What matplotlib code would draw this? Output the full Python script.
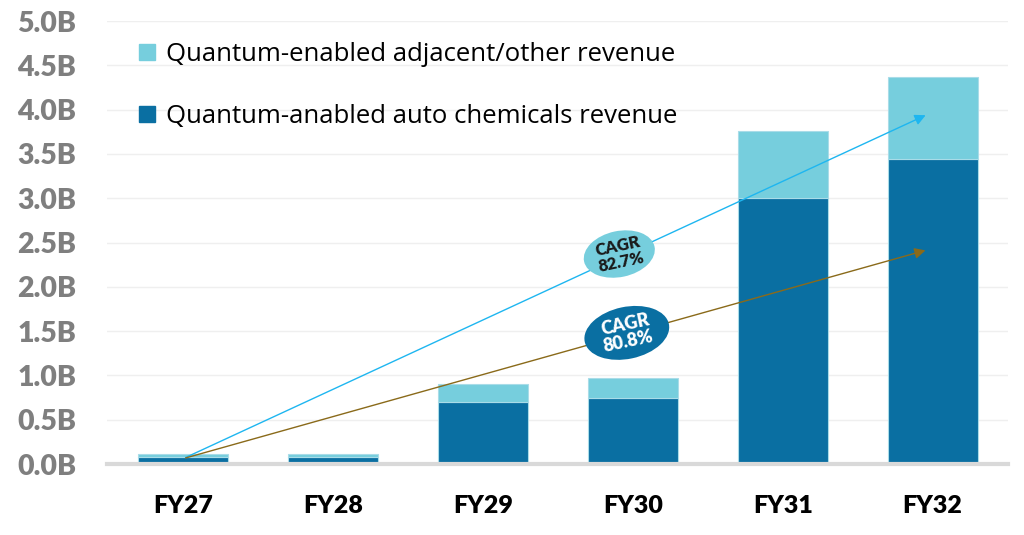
import matplotlib.pyplot as plt
from matplotlib.patches import Patch, Ellipse
from matplotlib.transforms import ScaledTranslation

# données (en milliards)
annees = ["FY27", "FY28", "FY29", "FY30", "FY31", "FY32"]
auto_chem = [0.08, 0.08, 0.70, 0.75, 3.00, 3.44]
adjacent = [0.03, 0.03, 0.20, 0.22, 0.76, 0.93]
y_ticks = [0.0, 0.5, 1.0, 1.5, 2.0, 2.5, 3.0, 3.5, 4.0, 4.5, 5.0]

c_dark = "#0a6fa2"
c_light = "#76cedd"

plt.rcParams["font.family"] = ["Lato", "DejaVu Sans"]

fig = plt.figure(figsize=(10.24, 5.35), dpi=100)
ax = fig.add_axes([0.1045, 0.1327, 0.8795, 0.828])

x = range(len(annees))
ax.bar(x, auto_chem, width=0.6, color=c_dark, edgecolor="#a9dce8", linewidth=0.8, zorder=2)
ax.bar(x, adjacent, width=0.6, bottom=auto_chem, color=c_light, edgecolor="#a9dce8",
       linewidth=0.8, zorder=2)

# flèches CAGR
ax.annotate("", xy=(4.97, 3.95), xytext=(0, 0.06),
            arrowprops=dict(arrowstyle="-|>", color="#1eb6f0", lw=1.0, mutation_scale=16), zorder=3)
ax.annotate("", xy=(4.97, 2.42), xytext=(0, 0.06),
            arrowprops=dict(arrowstyle="-|>", color="#8a6a1a", lw=1.0, mutation_scale=16), zorder=3)

# ellipses (taille en pouces, centre en coordonnées des données)
def bulle(cx, cy, w, h, couleur, texte, couleur_txt, taille):
    tr = fig.dpi_scale_trans + ScaledTranslation(cx, cy, ax.transData)
    ax.add_patch(Ellipse((0, 0), w, h, angle=12, transform=tr, fc=couleur, ec="none", zorder=4))
    ax.text(cx, cy, texte, rotation=12, ha="center", va="center", fontsize=taille,
            fontweight="heavy", color=couleur_txt, linespacing=1.0, zorder=5)

bulle(2.91, 2.37, 0.72, 0.46, c_light, "CAGR\n82.7%", "#1a1a1a", 12)
bulle(2.96, 1.48, 0.86, 0.52, c_dark, "CAGR\n80.8%", "white", 13)

ax.set_xlim(-0.507, 5.5)
ax.set_ylim(0, 5.0)
ax.set_yticks(y_ticks)
ax.set_yticklabels([f"{v:.1f}B" for v in y_ticks], fontsize=20.5, fontweight="heavy", color="#7f7f7f")
ax.set_xticks(list(x))
ax.set_xticklabels(annees, fontsize=18, fontweight="heavy", color="black")
ax.tick_params(length=0)
ax.tick_params(axis="y", pad=22)
ax.tick_params(axis="x", pad=22)
ax.grid(axis="y", color="#efefef", lw=1, zorder=0)
for s in ["top", "right", "left"]:
    ax.spines[s].set_visible(False)
ax.spines["bottom"].set_color("#d9d9d9")
ax.spines["bottom"].set_linewidth(3)
ax.spines["bottom"].set_zorder(3)

handles = [Patch(color=c_light), Patch(color=c_dark)]
labels = ["Quantum-enabled adjacent/other revenue", "Quantum-anabled auto chemicals revenue"]
ax.legend(handles, labels, loc="upper left", bbox_to_anchor=(0.01, 1.005), frameon=False,
          prop={"family": "Open Sans", "size": 18.5}, handlelength=0.6, handleheight=0.6,
          handletextpad=0.45, labelspacing=1.45)

fig.savefig("out.png", dpi=100)
